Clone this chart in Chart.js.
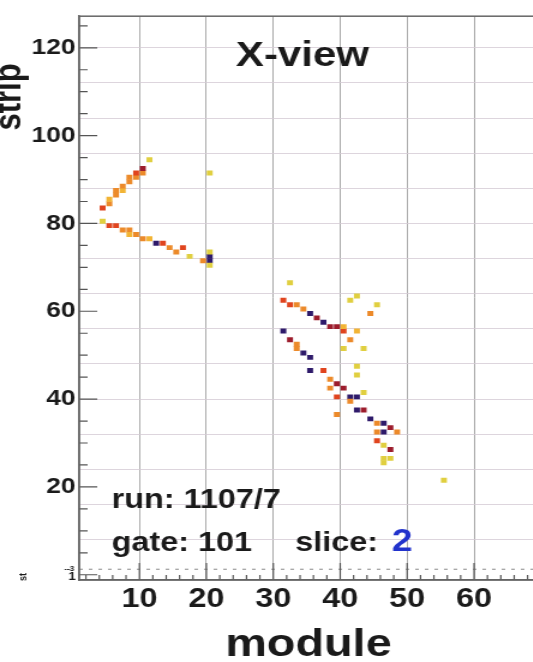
<!DOCTYPE html>
<html>
<head>
<meta charset="utf-8">
<title>X-view</title>
<script src="https://cdn.jsdelivr.net/npm/chart.js@4.4.1/dist/chart.umd.min.js"></script>
<style>
  html, body { margin: 0; padding: 0; background: #fff; overflow: hidden; }
  /* the event display is shown stretched sideways, like the old screen dump */
  #wrap { width: 452px; height: 662px; transform: scaleX(1.2); transform-origin: 0 0; }
</style>
</head>
<body>
<div id="wrap"><canvas id="xview" width="452" height="662"></canvas></div>
<script>
// hit cells: module (bin centre), strip (bin centre), pulse height class 1..6
const hitModule = [
  4.5, 5.5, 5.5, 6.5, 6.5, 7.5, 7.5, 8.5, 8.5, 9.5, 10.5, 9.5, 10.5, 11.5,
  4.5, 5.5, 6.5, 7.5, 8.5, 8.5, 9.5, 10.5, 11.5, 12.5, 13.5, 14.5, 15.5, 16.5, 17.5, 19.5, 20.5, 20.5, 20.5, 20.5, 20.5,
  32.5, 31.5, 32.5, 33.5, 34.5, 35.5, 36.5, 37.5, 38.5, 39.5, 40.5, 40.5, 41.5, 41.5, 42.5, 45.5, 44.5, 40.5, 43.5, 42.5,
  31.5, 32.5, 33.5, 33.5, 34.5, 35.5, 35.5, 37.5, 38.5, 39.5, 38.5, 40.5, 39.5, 41.5, 42.5, 42.5, 43.5, 44.5, 41.5, 42.5,
  42.5, 43.5, 39.5, 45.5, 46.5, 47.5, 48.5, 46.5, 45.5, 45.5, 46.5, 47.5, 46.5, 47.5, 46.5, 55.5
];
const hitStrip = [
  83.5, 84.5, 85.5, 86.5, 87.5, 87.5, 88.5, 89.5, 90.5, 90.5, 91.5, 91.5, 92.5, 94.5,
  80.5, 79.5, 79.5, 78.5, 78.5, 77.5, 77.5, 76.5, 76.5, 75.5, 75.5, 74.5, 73.5, 74.5, 72.5, 71.5, 72.5, 71.5, 73.5, 70.5, 91.5,
  66.5, 62.5, 61.5, 61.5, 60.5, 59.5, 58.5, 57.5, 56.5, 56.5, 55.5, 56.5, 53.5, 62.5, 63.5, 61.5, 59.5, 51.5, 51.5, 55.5,
  55.5, 53.5, 52.5, 51.5, 50.5, 49.5, 46.5, 46.5, 44.5, 43.5, 42.5, 42.5, 40.5, 40.5, 40.5, 37.5, 37.5, 35.5, 39.5, 47.5,
  45.5, 41.5, 36.5, 34.5, 34.5, 33.5, 32.5, 32.5, 32.5, 30.5, 29.5, 28.5, 26.5, 26.5, 25.5, 21.5
];
const hitLevel = [
  4, 3, 2, 3, 3, 2, 3, 3, 3, 3, 3, 4, 5, 1,
  1, 4, 4, 3, 3, 2, 3, 3, 2, 6, 4, 3, 3, 4, 1, 3, 6, 6, 1, 1, 1,
  1, 4, 4, 3, 3, 6, 5, 6, 5, 5, 4, 2, 3, 1, 1, 1, 3, 1, 1, 2,
  6, 5, 3, 3, 6, 6, 6, 4, 3, 5, 3, 5, 4, 6, 6, 6, 5, 6, 3, 1,
  1, 1, 3, 3, 6, 5, 3, 6, 3, 4, 1, 5, 1, 1, 1, 1
];

const xTicks = [10, 20, 30, 40, 50, 60];
const yLabelTicks = [20, 40, 60, 80, 100, 120];
const yGridStep = 8;

const runText = 'run: 1107/7';
const gateText = 'gate: 101';
const sliceText = 'slice: ';
const sliceNumber = '2';

// low -> high pulse height
const palette = ['#e0cf40', '#f2b434', '#ec8a2a', '#e0441e', '#9c1c2c', '#2e1a6a'];

const FONT = "'Liberation Sans', Arial, Helvetica, sans-serif";
Chart.defaults.font.family = FONT;

const points = hitModule.map((m, i) => ({ x: m, y: hitStrip[i] }));

const frameDecor = {
  id: 'frameDecor',
  beforeDatasetsDraw(chart) {
    const { ctx, chartArea: a, scales: { y } } = chart;
    // lower pad edge
    const yd = y.getPixelForValue(1.25);
    ctx.save();
    ctx.strokeStyle = '#8a8a8a';
    ctx.lineWidth = 1;
    ctx.setLineDash([3, 5]);
    ctx.beginPath();
    ctx.moveTo(a.left, yd);
    ctx.lineTo(a.right, yd);
    ctx.stroke();
    ctx.restore();
  },
  afterDraw(chart) {
    const { ctx, chartArea: a, scales: { x, y } } = chart;
    ctx.save();

    // inward tick marks
    ctx.strokeStyle = '#555';
    ctx.lineWidth = 1.2;
    ctx.beginPath();
    for (let v = 0; v <= 125; v += 5) {
      const py = y.getPixelForValue(v);
      const len = v % 20 === 0 ? 15 : 7;
      ctx.moveTo(a.left, py);
      ctx.lineTo(a.left + len, py);
    }
    for (let v = 2; v <= 68; v += 2) {
      const px = x.getPixelForValue(v);
      const len = v % 10 === 0 ? 17 : 5;
      ctx.moveTo(px, a.bottom);
      ctx.lineTo(px, a.bottom - len);
    }
    ctx.stroke();

    // frame
    ctx.strokeStyle = '#666';
    ctx.lineWidth = 1.5;
    ctx.strokeRect(a.left, a.top, a.right - a.left, a.bottom - a.top);

    // y title
    ctx.fillStyle = '#1a1a1a';
    ctx.font = 'bold 31px ' + FONT;
    ctx.translate(16.5, 97);
    ctx.rotate(-Math.PI / 2);
    ctx.textAlign = 'center';
    ctx.textBaseline = 'alphabetic';
    ctx.fillText('strip', 0, 0);
    ctx.setTransform(1, 0, 0, 1, 0, 0);

    // lower pad leftovers
    ctx.font = 'bold 11px ' + FONT;
    ctx.textAlign = 'right';
    ctx.fillText('1', a.left - 3, a.bottom);
    ctx.font = 'bold 7px ' + FONT;
    ctx.fillText('--3', a.left - 4, y.getPixelForValue(1.25) + 2);
    ctx.save();
    ctx.translate(22, a.bottom - 3);
    ctx.rotate(-Math.PI / 2);
    ctx.textAlign = 'center';
    ctx.font = 'bold 9px ' + FONT;
    ctx.fillText('st', 0, 0);
    ctx.restore();

    // view name
    ctx.font = 'bold 35px ' + FONT;
    ctx.textAlign = 'center';
    ctx.fillText('X-view', a.left + 186, a.top + 50);

    // run info
    ctx.textAlign = 'left';
    ctx.font = 'bold 27px ' + FONT;
    ctx.fillText(runText, a.left + 27, 508);
    ctx.fillText(gateText, a.left + 27, 551);
    const sx = a.left + 180;
    ctx.fillText(sliceText, sx, 551);
    const sw = ctx.measureText(sliceText).width;
    ctx.fillStyle = '#2233cc';
    ctx.font = 'bold 31px ' + FONT;
    ctx.fillText(sliceNumber, sx + sw + 4, 551);

    ctx.restore();
  }
};

new Chart(document.getElementById('xview'), {
  type: 'scatter',
  data: {
    datasets: [{
      label: 'hits',
      data: points,
      pointStyle: 'rect',
      pointRadius: 3.5,
      pointBorderWidth: 0,
      pointBackgroundColor: hitLevel.map(l => palette[l - 1]),
      pointBorderColor: 'rgba(0,0,0,0)'
    }]
  },
  options: {
    responsive: false,
    animation: false,
    events: [],
    layout: { padding: { top: 12, right: 4, bottom: 0, left: 0 } },
    plugins: {
      legend: { display: false },
      tooltip: { enabled: false }
    },
    scales: {
      x: {
        type: 'linear',
        min: 1,
        max: 69.5,
        afterBuildTicks: s => { s.ticks = xTicks.map(v => ({ value: v })); },
        afterFit: s => { s.height = 82; },
        ticks: {
          autoSkip: false,
          maxRotation: 0,
          padding: 3,
          color: '#1a1a1a',
          font: { size: 27, weight: 'bold' }
        },
        grid: { color: '#a9a9a9', lineWidth: 1, drawTicks: false },
        border: { display: true, color: '#666', width: 1.5 },
        title: {
          display: true,
          text: 'module',
          color: '#1a1a1a',
          padding: 0,
          font: { size: 39, weight: 'bold', lineHeight: 0.87 }
        }
      },
      y: {
        type: 'linear',
        min: -1.2,
        max: 127.2,
        afterBuildTicks: s => {
          const vals = new Set(yLabelTicks);
          for (let v = yGridStep; v < 127; v += yGridStep) vals.add(v);
          s.ticks = [...vals].sort((a, b) => a - b).map(v => ({ value: v }));
        },
        afterFit: s => { s.width = 66; },
        ticks: {
          autoSkip: false,
          padding: 3,
          color: '#1a1a1a',
          font: { size: 22, weight: 'bold' },
          callback: v => yLabelTicks.includes(v) ? String(v) : ''
        },
        grid: {
          drawTicks: false,
          lineWidth: 1,
          color: c => (c.tick && c.tick.value % yGridStep === 0) ? 'rgba(212,202,212,0.8)' : 'rgba(0,0,0,0)'
        },
        border: { display: true, color: '#666', width: 1.5 }
      }
    }
  },
  plugins: [frameDecor]
});
</script>
</body>
</html>
